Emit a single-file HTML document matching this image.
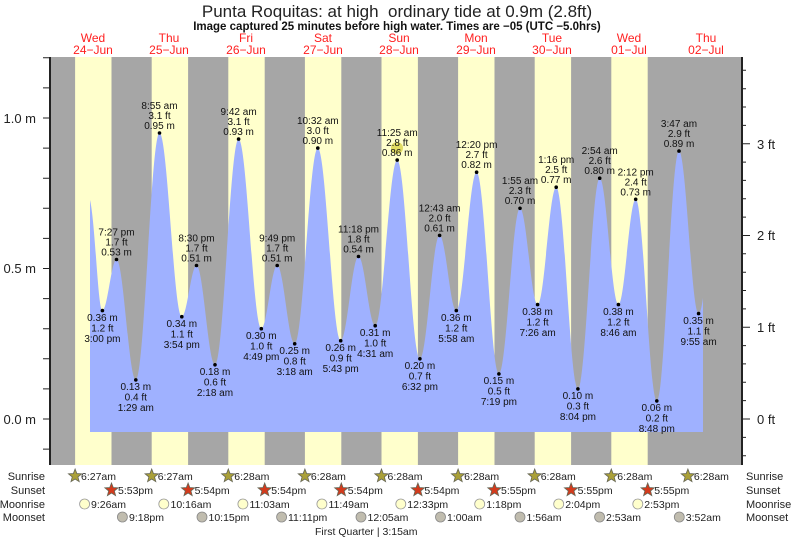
<!DOCTYPE html>
<html><head><meta charset="utf-8"><style>
html,body{margin:0;padding:0;background:#fff;}
svg{display:block;font-family:"Liberation Sans",Arial,sans-serif;}
</style></head><body>
<svg width="793" height="539" viewBox="0 0 793 539" xmlns="http://www.w3.org/2000/svg">
<defs>
<polygon id="st" points="0,-7 1.76,-2.43 6.66,-2.16 2.85,0.93 4.11,5.66 0,3 -4.11,5.66 -2.85,0.93 -6.66,-2.16 -1.76,-2.43" stroke="#665" stroke-width="0.8"/>
</defs>
<rect x="50" y="57" width="693" height="408" fill="#a6a6a6"/>
<g fill="#ffffcc">
<rect x="75.1" y="57" width="36.4" height="408"/>
<rect x="151.7" y="57" width="36.4" height="408"/>
<rect x="228.3" y="57" width="36.4" height="408"/>
<rect x="304.9" y="57" width="36.4" height="408"/>
<rect x="381.5" y="57" width="36.4" height="408"/>
<rect x="458.1" y="57" width="36.4" height="408"/>
<rect x="534.7" y="57" width="36.4" height="408"/>
<rect x="611.3" y="57" width="36.4" height="408"/>
</g>
<path fill="#9fb1ff" d="M90,432 L90,200 C95,220 98,310.6 102.4,310.6
C107.5,310.6 111.4,259.5 116.5,259.5
C123.5,259.5 128.8,379.9 135.8,379.9
C144.4,379.9 150.9,133 159.5,133
C167.6,133 173.7,316.7 181.8,316.7
C187.1,316.7 191.2,265.5 196.5,265.5
C203.2,265.5 208.3,364.8 215,364.8
C223.6,364.8 230,139.1 238.6,139.1
C246.9,139.1 253.1,328.7 261.3,328.7
C267.1,328.7 271.4,265.5 277.2,265.5
C283.6,265.5 288.3,343.8 294.7,343.8
C303.1,343.8 309.4,148.1 317.8,148.1
C326.1,148.1 332.4,340.7 340.7,340.7
C347.2,340.7 352,256.5 358.5,256.5
C364.6,256.5 369.1,325.7 375.2,325.7
C383.2,325.7 389.2,160.1 397.2,160.1
C405.5,160.1 411.6,358.8 419.9,358.8
C427.1,358.8 432.4,235.4 439.6,235.4
C445.7,235.4 450.2,310.6 456.3,310.6
C463.7,310.6 469.2,172.2 476.6,172.2
C484.7,172.2 490.8,373.9 498.9,373.9
C506.6,373.9 512.3,208.3 520,208.3
C526.4,208.3 531.2,304.6 537.6,304.6
C544.4,304.6 549.4,187.2 556.2,187.2
C564.1,187.2 570,388.9 577.9,388.9
C585.8,388.9 591.8,178.2 599.7,178.2
C606.5,178.2 611.6,304.6 618.4,304.6
C624.7,304.6 629.4,199.3 635.7,199.3
C643.4,199.3 649.1,400.9 656.8,400.9
C664.9,400.9 670.9,151.1 679,151.1
C686.1,151.1 691.5,313.6 698.6,313.6
C700.2,313.6 701.5,308 703,298 L703,432 Z"/>
<g fill="#000">
<circle cx="102.4" cy="310.6" r="1.8"/><circle cx="116.5" cy="259.5" r="1.8"/><circle cx="135.8" cy="379.9" r="1.8"/><circle cx="159.5" cy="133" r="1.8"/><circle cx="181.8" cy="316.7" r="1.8"/><circle cx="196.5" cy="265.5" r="1.8"/><circle cx="215" cy="364.8" r="1.8"/><circle cx="238.6" cy="139.1" r="1.8"/><circle cx="261.3" cy="328.7" r="1.8"/><circle cx="277.2" cy="265.5" r="1.8"/><circle cx="294.7" cy="343.8" r="1.8"/><circle cx="317.8" cy="148.1" r="1.8"/><circle cx="340.7" cy="340.7" r="1.8"/><circle cx="358.5" cy="256.5" r="1.8"/><circle cx="375.2" cy="325.7" r="1.8"/><circle cx="397.2" cy="160.1" r="1.8"/><circle cx="419.9" cy="358.8" r="1.8"/><circle cx="439.6" cy="235.4" r="1.8"/><circle cx="456.3" cy="310.6" r="1.8"/><circle cx="476.6" cy="172.2" r="1.8"/><circle cx="498.9" cy="373.9" r="1.8"/><circle cx="520" cy="208.3" r="1.8"/><circle cx="537.6" cy="304.6" r="1.8"/><circle cx="556.2" cy="187.2" r="1.8"/><circle cx="577.9" cy="388.9" r="1.8"/><circle cx="599.7" cy="178.2" r="1.8"/><circle cx="618.4" cy="304.6" r="1.8"/><circle cx="635.7" cy="199.3" r="1.8"/><circle cx="656.8" cy="400.9" r="1.8"/><circle cx="679" cy="151.1" r="1.8"/><circle cx="698.6" cy="313.6" r="1.8"/>
</g>
<circle cx="397" cy="148" r="6" fill="#d8d040" opacity="0.75"/>
<line x1="50" y1="57" x2="50" y2="465" stroke="#222" stroke-width="2"/>
<line x1="742" y1="57" x2="742" y2="465" stroke="#222" stroke-width="2"/>
<path stroke="#222" stroke-width="1" fill="none" d="M43,449.1H50M43,419H50M43,388.9H50M43,358.8H50M43,328.7H50M43,298.6H50M43,268.5H50M43,238.4H50M43,208.3H50M43,178.2H50M43,148.1H50M43,118H50M43,87.9H50M43,57.8H50
M742,455.7H746M742,437.35H746M742,419H750M742,400.65H746M742,382.3H746M742,363.9H746M742,345.6H746M742,327.2H750M742,308.9H746M742,290.5H746M742,272.2H746M742,253.8H746M742,235.5H750M742,217.1H746M742,198.8H746M742,180.4H746M742,162.1H746M742,143.7H750M742,125.4H746M742,107H746M742,88.7H746M742,70.3H746"/>
<g font-size="13" fill="#222">
<text x="36" y="123" text-anchor="end">1.0 m</text>
<text x="36" y="273" text-anchor="end">0.5 m</text>
<text x="36" y="424" text-anchor="end">0.0 m</text>
<text x="757" y="149">3 ft</text>
<text x="757" y="240">2 ft</text>
<text x="757" y="332">1 ft</text>
<text x="757" y="424">0 ft</text>
</g>
<text x="397" y="17" text-anchor="middle" font-size="17" fill="#222" xml:space="preserve">Punta Roquitas: at high  ordinary tide at 0.9m (2.8ft)</text>
<text x="397" y="30" text-anchor="middle" font-size="11.5" font-weight="bold" fill="#111">Image captured 25 minutes before high water. Times are −05 (UTC −5.0hrs)</text>
<g font-size="12" fill="#ff2020" text-anchor="middle">
<text x="93" y="42">Wed</text><text x="93" y="54">24−Jun</text>
<text x="169" y="42">Thu</text><text x="169" y="54">25−Jun</text>
<text x="246" y="42">Fri</text><text x="246" y="54">26−Jun</text>
<text x="323" y="42">Sat</text><text x="323" y="54">27−Jun</text>
<text x="399" y="42">Sun</text><text x="399" y="54">28−Jun</text>
<text x="476" y="42">Mon</text><text x="476" y="54">29−Jun</text>
<text x="552" y="42">Tue</text><text x="552" y="54">30−Jun</text>
<text x="629" y="42">Wed</text><text x="629" y="54">01−Jul</text>
<text x="706" y="42">Thu</text><text x="706" y="54">02−Jul</text>
</g>
<g font-size="10" fill="#111" text-anchor="middle">
<text x="116.5" y="235.5">7:27 pm</text><text x="116.5" y="245.5">1.7 ft</text><text x="116.5" y="255.5">0.53 m</text>
<text x="159.5" y="109">8:55 am</text><text x="159.5" y="119">3.1 ft</text><text x="159.5" y="129">0.95 m</text>
<text x="196.5" y="241.5">8:30 pm</text><text x="196.5" y="251.5">1.7 ft</text><text x="196.5" y="261.5">0.51 m</text>
<text x="238.6" y="115">9:42 am</text><text x="238.6" y="125">3.1 ft</text><text x="238.6" y="135">0.93 m</text>
<text x="277.2" y="241.5">9:49 pm</text><text x="277.2" y="251.5">1.7 ft</text><text x="277.2" y="261.5">0.51 m</text>
<text x="317.8" y="124">10:32 am</text><text x="317.8" y="134">3.0 ft</text><text x="317.8" y="144">0.90 m</text>
<text x="358.5" y="232.5">11:18 pm</text><text x="358.5" y="242.5">1.8 ft</text><text x="358.5" y="252.5">0.54 m</text>
<text x="397.2" y="136">11:25 am</text><text x="397.2" y="146">2.8 ft</text><text x="397.2" y="156">0.86 m</text>
<text x="439.6" y="211.4">12:43 am</text><text x="439.6" y="221.4">2.0 ft</text><text x="439.6" y="231.4">0.61 m</text>
<text x="476.6" y="148">12:20 pm</text><text x="476.6" y="158">2.7 ft</text><text x="476.6" y="168">0.82 m</text>
<text x="520" y="184">1:55 am</text><text x="520" y="194">2.3 ft</text><text x="520" y="204">0.70 m</text>
<text x="556.2" y="163.2">1:16 pm</text><text x="556.2" y="173.2">2.5 ft</text><text x="556.2" y="183.2">0.77 m</text>
<text x="599.7" y="154.2">2:54 am</text><text x="599.7" y="164.2">2.6 ft</text><text x="599.7" y="174.2">0.80 m</text>
<text x="635.7" y="175.3">2:12 pm</text><text x="635.7" y="185.3">2.4 ft</text><text x="635.7" y="195.3">0.73 m</text>
<text x="679" y="127">3:47 am</text><text x="679" y="137">2.9 ft</text><text x="679" y="147">0.89 m</text>
<text x="102.4" y="321">0.36 m</text><text x="102.4" y="331.5">1.2 ft</text><text x="102.4" y="342">3:00 pm</text>
<text x="135.8" y="390">0.13 m</text><text x="135.8" y="400.5">0.4 ft</text><text x="135.8" y="411">1:29 am</text>
<text x="181.8" y="327">0.34 m</text><text x="181.8" y="337.5">1.1 ft</text><text x="181.8" y="348">3:54 pm</text>
<text x="215" y="375">0.18 m</text><text x="215" y="385.5">0.6 ft</text><text x="215" y="396">2:18 am</text>
<text x="261.3" y="339">0.30 m</text><text x="261.3" y="349.5">1.0 ft</text><text x="261.3" y="360">4:49 pm</text>
<text x="294.7" y="354">0.25 m</text><text x="294.7" y="364.5">0.8 ft</text><text x="294.7" y="375">3:18 am</text>
<text x="340.7" y="351">0.26 m</text><text x="340.7" y="361.5">0.9 ft</text><text x="340.7" y="372">5:43 pm</text>
<text x="375.2" y="336">0.31 m</text><text x="375.2" y="346.5">1.0 ft</text><text x="375.2" y="357">4:31 am</text>
<text x="419.9" y="369">0.20 m</text><text x="419.9" y="379.5">0.7 ft</text><text x="419.9" y="390">6:32 pm</text>
<text x="456.3" y="321">0.36 m</text><text x="456.3" y="331.5">1.2 ft</text><text x="456.3" y="342">5:58 am</text>
<text x="498.9" y="384">0.15 m</text><text x="498.9" y="394.5">0.5 ft</text><text x="498.9" y="405">7:19 pm</text>
<text x="537.6" y="315">0.38 m</text><text x="537.6" y="325.5">1.2 ft</text><text x="537.6" y="336">7:26 am</text>
<text x="577.9" y="399">0.10 m</text><text x="577.9" y="409.5">0.3 ft</text><text x="577.9" y="420">8:04 pm</text>
<text x="618.4" y="315">0.38 m</text><text x="618.4" y="325.5">1.2 ft</text><text x="618.4" y="336">8:46 am</text>
<text x="656.8" y="411">0.06 m</text><text x="656.8" y="421.5">0.2 ft</text><text x="656.8" y="432">8:48 pm</text>
<text x="698.6" y="324">0.35 m</text><text x="698.6" y="334.5">1.1 ft</text><text x="698.6" y="345">9:55 am</text>
</g>
<g fill="#aaa038">
<use href="#st" x="75.1" y="476"/><use href="#st" x="151.7" y="476"/><use href="#st" x="228.3" y="476"/><use href="#st" x="304.9" y="476"/><use href="#st" x="381.5" y="476"/><use href="#st" x="458.1" y="476"/><use href="#st" x="534.7" y="476"/><use href="#st" x="611.3" y="476"/><use href="#st" x="687.9" y="476"/>
</g>
<g fill="#d43a1c">
<use href="#st" x="111.5" y="490"/><use href="#st" x="188.1" y="490"/><use href="#st" x="264.7" y="490"/><use href="#st" x="341.3" y="490"/><use href="#st" x="417.9" y="490"/><use href="#st" x="494.5" y="490"/><use href="#st" x="571.1" y="490"/><use href="#st" x="647.7" y="490"/>
</g>
<g fill="#ffffcc" stroke="#999" stroke-width="0.8">
<circle cx="84.6" cy="504" r="5"/><circle cx="163.8" cy="504" r="5"/><circle cx="242.9" cy="504" r="5"/><circle cx="321.9" cy="504" r="5"/><circle cx="400.8" cy="504" r="5"/><circle cx="479.7" cy="504" r="5"/><circle cx="558.7" cy="504" r="5"/><circle cx="637.8" cy="504" r="5"/>
</g>
<g fill="#c0bcae" stroke="#888" stroke-width="0.8">
<circle cx="122.4" cy="517" r="5"/><circle cx="202" cy="517" r="5"/><circle cx="281.6" cy="517" r="5"/><circle cx="361" cy="517" r="5"/><circle cx="440.5" cy="517" r="5"/><circle cx="520" cy="517" r="5"/><circle cx="599.6" cy="517" r="5"/><circle cx="679.3" cy="517" r="5"/>
</g>
<g font-size="11" fill="#222">
<text x="45" y="480" text-anchor="end">Sunrise</text>
<text x="45" y="494" text-anchor="end">Sunset</text>
<text x="45" y="508" text-anchor="end">Moonrise</text>
<text x="45" y="521" text-anchor="end">Moonset</text>
<text x="746" y="480">Sunrise</text>
<text x="746" y="494">Sunset</text>
<text x="746" y="508">Moonrise</text>
<text x="746" y="521">Moonset</text>
</g>
<g font-size="10.5" fill="#222">
<text x="81" y="480">6:27am</text><text x="157.7" y="480">6:27am</text><text x="234.3" y="480">6:28am</text><text x="310.9" y="480">6:28am</text><text x="387.5" y="480">6:28am</text><text x="464.1" y="480">6:28am</text><text x="540.7" y="480">6:28am</text><text x="617.3" y="480">6:28am</text><text x="693.9" y="480">6:28am</text>
<text x="118" y="494">5:53pm</text><text x="194.6" y="494">5:54pm</text><text x="271.2" y="494">5:54pm</text><text x="347.8" y="494">5:54pm</text><text x="424.4" y="494">5:54pm</text><text x="501" y="494">5:55pm</text><text x="577.6" y="494">5:55pm</text><text x="654.2" y="494">5:55pm</text>
<text x="91" y="508">9:26am</text><text x="170.5" y="508">10:16am</text><text x="249.5" y="508">11:03am</text><text x="328.5" y="508">11:49am</text><text x="407.3" y="508">12:33pm</text><text x="486.3" y="508">1:18pm</text><text x="565.2" y="508">2:04pm</text><text x="644.3" y="508">2:53pm</text>
<text x="129" y="521">9:18pm</text><text x="208.5" y="521">10:15pm</text><text x="288" y="521">11:11pm</text><text x="367.5" y="521">12:05am</text><text x="447" y="521">1:00am</text><text x="526.5" y="521">1:56am</text><text x="606" y="521">2:53am</text><text x="685.8" y="521">3:52am</text>
<text x="315" y="535">First Quarter | 3:15am</text>
</g>
</svg>
</body></html>
